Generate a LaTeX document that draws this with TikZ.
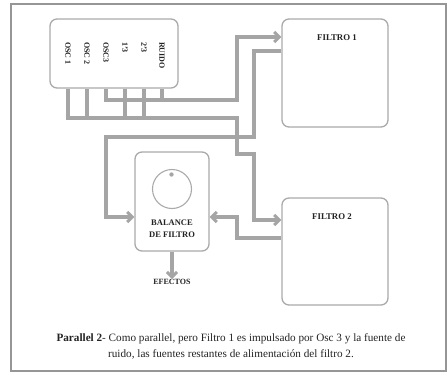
\documentclass[tikz,border=0pt]{standalone}
\usepackage{fontspec}
\setmainfont{Liberation Serif}
\usetikzlibrary{arrows.meta,calc}
\definecolor{wiregray}{RGB}{165,165,165}
\definecolor{boxgray}{RGB}{170,170,170}
\definecolor{framegray}{RGB}{150,150,150}
\definecolor{txt}{RGB}{35,35,35}
\tikzset{
  box/.style={draw=boxgray, line width=1.3pt, rounded corners=7pt, fill=white, inner sep=0pt},
  wire/.style={draw=wiregray, line width=3.2pt},
  arr/.style={wire, -{Straight Barb[length=5pt,width=10pt,line width=3pt]}},
  lbl/.style={font=\bfseries\fontsize{8.8}{10}\selectfont, text=txt, inner sep=0pt},
  osclbl/.style={font=\bfseries\fontsize{8}{9}\selectfont, text=txt, inner sep=0pt, rotate=-90, anchor=west},
}
\begin{document}
\begin{tikzpicture}[x=1pt,y=-1pt]
\useasboundingbox (0,0) rectangle (447,375);
\draw[framegray, line width=1.2pt] (11,4) rectangle (446,371);

% boxes
\node[box, minimum width=128pt, minimum height=69pt] (osc) at (114,53.5) {};
\node[box, minimum width=106pt, minimum height=108pt] (f1) at (335,73) {};
\node[box, minimum width=106pt, minimum height=107pt] (f2) at (335,251.5) {};
\node[box, minimum width=74pt, minimum height=99pt] (bal) at (172,201.5) {};

% osc labels
\node[osclbl] (o1) at (68,42) {OSC 1};
\node[osclbl] (o2) at (87,42) {OSC 2};
\node[osclbl] (o3) at (106,42) {OSC3};
\node[osclbl] (o4) at (125,42) {1'3};
\node[osclbl] (o5) at (144,42) {2'3};
\node[osclbl] (o6) at (162,42) {RUIDO};

% upper route: OSC3 + RUIDO -> Filtro 1
\draw[arr] (o3 |- osc.south) -- (106,100) -- (237,100) -- (237,37) -- (f1.west |- 0,37);
\draw[wire] (o6 |- osc.south) -- (162,100);
% lower route: OSC1, OSC2, 1'3, 2'3 -> Filtro 2
\draw[wire] (o2 |- osc.south) -- (87,118);
\draw[wire] (o4 |- osc.south) -- (125,118);
\draw[wire] (o5 |- osc.south) -- (144,118);
\draw[arr] (o1 |- osc.south) -- (68,118) -- (237,118) -- (237,154) -- (254,154) -- (254,220) -- (f2.west |- 0,220);
% Filtro 1 -> Balance
\draw[arr] (f1.west |- 0,51) -- (254,51) -- (254,137) -- (106,137) -- (106,217) -- (bal.west |- 0,217);
% Filtro 2 -> Balance
\draw[arr] (f2.west |- 0,238) -- (237,238) -- (237,217) -- (bal.east |- 0,217);

% box labels
\node[lbl] (f1t) at (337,38) {FILTRO 1};
\node[lbl] (f2t) at (332,217) {FILTRO 2};

% knob
\draw[boxgray, line width=1.1pt] (172,189) circle (19.5pt);
\fill[wiregray] (171.5,174.5) circle (2.2pt);
\node[lbl, align=center, font=\bfseries\fontsize{8.5}{12}\selectfont] (balt) at (172,229) {BALANCE\\DE FILTRO};

% output
\node[lbl, font=\bfseries\fontsize{8}{9}\selectfont] (efx) at (172,282) {EFECTOS};
\draw[arr] (bal.south) -- (efx.north);

% caption
\node[font=\fontsize{11.2}{16}\selectfont, text=txt, align=center] (cap) at (231,346)
  {\textbf{Parallel 2}- Como parallel, pero Filtro 1 es impulsado por Osc 3 y la fuente de\\
   ruido, las fuentes restantes de alimentación del filtro 2.};
\end{tikzpicture}
\end{document}
